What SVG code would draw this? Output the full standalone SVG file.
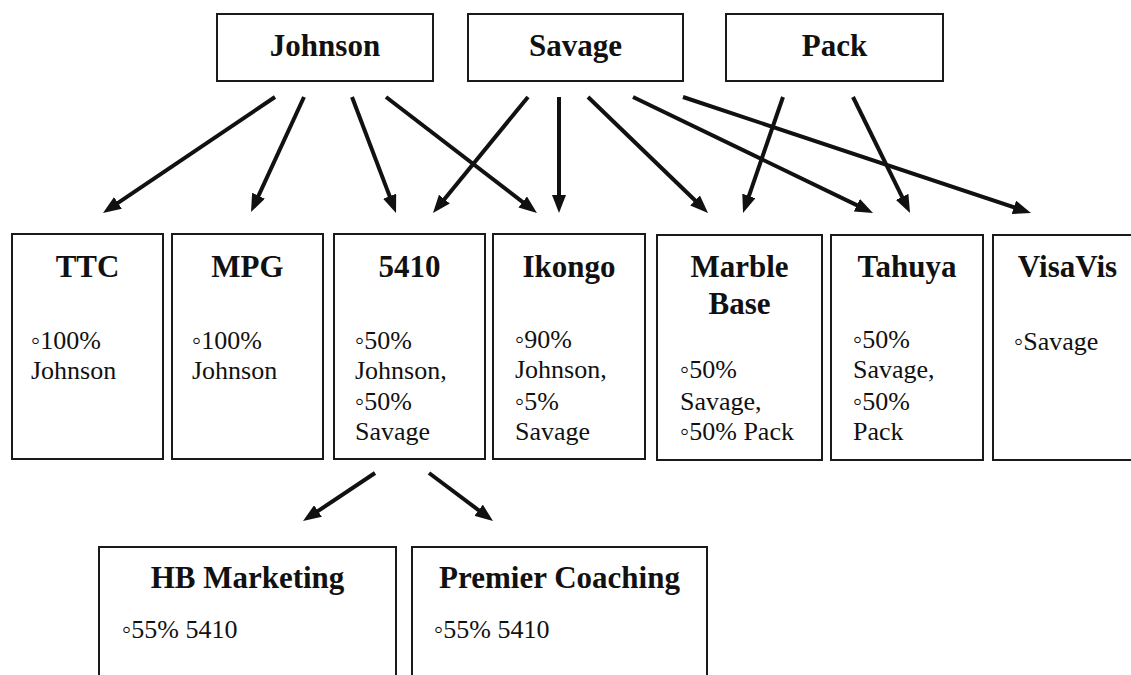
<svg xmlns="http://www.w3.org/2000/svg" width="1131" height="675" viewBox="0 0 1131 675">
<style>
.box{fill:#fff;stroke:#1a1a1a;stroke-width:2}
.t{font-family:"Liberation Serif","Times New Roman",serif;font-weight:bold;font-size:31px;fill:#111;text-anchor:middle}
.b{font-family:"Liberation Serif","Times New Roman",serif;font-size:26px;fill:#111}
.c{stroke:#111;stroke-width:4;fill:none;marker-end:url(#ah)}
</style>
<defs>
<marker id="ah" markerUnits="userSpaceOnUse" markerWidth="18" markerHeight="14" refX="12" refY="7" orient="auto">
<path d="M0,0 L18,7 L0,14 z" fill="#111"/>
</marker>
</defs>
<rect width="1131" height="675" fill="#fff"/>
<g id="johnson"><rect class="box" x="217" y="14" width="216" height="67"/><text class="t" x="325" y="56">Johnson</text></g>
<g id="savage"><rect class="box" x="468" y="14" width="215" height="67"/><text class="t" x="575.5" y="56">Savage</text></g>
<g id="pack"><rect class="box" x="726" y="14" width="217" height="67"/><text class="t" x="834.5" y="56">Pack</text></g>

<g id="ttc"><rect class="box" x="12" y="234" width="151" height="225"/><text class="t" x="87.5" y="277">TTC</text>
<text class="b" x="31" y="349">◦100%</text><text class="b" x="31" y="379">Johnson</text></g>
<g id="mpg"><rect class="box" x="172" y="234" width="151" height="225"/><text class="t" x="247.5" y="277">MPG</text>
<text class="b" x="192" y="349">◦100%</text><text class="b" x="192" y="379">Johnson</text></g>
<g id="n5410"><rect class="box" x="334" y="234" width="151" height="225"/><text class="t" x="409.5" y="277">5410</text>
<text class="b" x="355" y="349">◦50%</text><text class="b" x="355" y="379">Johnson,</text><text class="b" x="355" y="410">◦50%</text><text class="b" x="355" y="440">Savage</text></g>
<g id="ikongo"><rect class="box" x="493" y="234" width="152" height="225"/><text class="t" x="569" y="277">Ikongo</text>
<text class="b" x="515" y="348">◦90%</text><text class="b" x="515" y="378">Johnson,</text><text class="b" x="515" y="410">◦5%</text><text class="b" x="515" y="440">Savage</text></g>
<g id="marble"><rect class="box" x="657" y="235" width="165" height="225"/><text class="t" x="739.5" y="277">Marble</text><text class="t" x="739.5" y="314">Base</text>
<text class="b" x="680" y="378">◦50%</text><text class="b" x="680" y="410">Savage,</text><text class="b" x="680" y="440">◦50% Pack</text></g>
<g id="tahuya"><rect class="box" x="831" y="235" width="152" height="225"/><text class="t" x="907" y="277">Tahuya</text>
<text class="b" x="853" y="348">◦50%</text><text class="b" x="853" y="378">Savage,</text><text class="b" x="853" y="410">◦50%</text><text class="b" x="853" y="440">Pack</text></g>
<g id="visavis"><rect class="box" x="993" y="235" width="149" height="225"/><text class="t" x="1067.5" y="277">VisaVis</text>
<text class="b" x="1014" y="350">◦Savage</text></g>

<g id="hb"><rect class="box" x="99" y="547" width="297" height="150"/><text class="t" x="247.5" y="588">HB Marketing</text>
<text class="b" x="122" y="638">◦55% 5410</text></g>
<g id="premier"><rect class="box" x="412" y="547" width="295" height="150"/><text class="t" x="559.5" y="588">Premier Coaching</text>
<text class="b" x="434" y="638">◦55% 5410</text></g>

<g id="connectors">
<line class="c" x1="275" y1="97" x2="108" y2="209.6"/>
<line class="c" x1="304" y1="97" x2="253.5" y2="206.6"/>
<line class="c" x1="352" y1="97" x2="393.9" y2="207.4"/>
<line class="c" x1="386" y1="97" x2="532.2" y2="209.3"/>
<line class="c" x1="528" y1="97" x2="436.8" y2="208.4"/>
<line class="c" x1="559" y1="97" x2="559" y2="207"/>
<line class="c" x1="588" y1="97" x2="703.7" y2="208.8"/>
<line class="c" x1="633" y1="97" x2="867.6" y2="210.4"/>
<line class="c" x1="683" y1="97" x2="1025.3" y2="211.1"/>
<line class="c" x1="783" y1="97" x2="745" y2="207.3"/>
<line class="c" x1="853" y1="97" x2="907.4" y2="207.6"/>
<line class="c" x1="375" y1="473" x2="308" y2="517.7"/>
<line class="c" x1="429" y1="473" x2="488.2" y2="517.4"/>
</g>
</svg>
